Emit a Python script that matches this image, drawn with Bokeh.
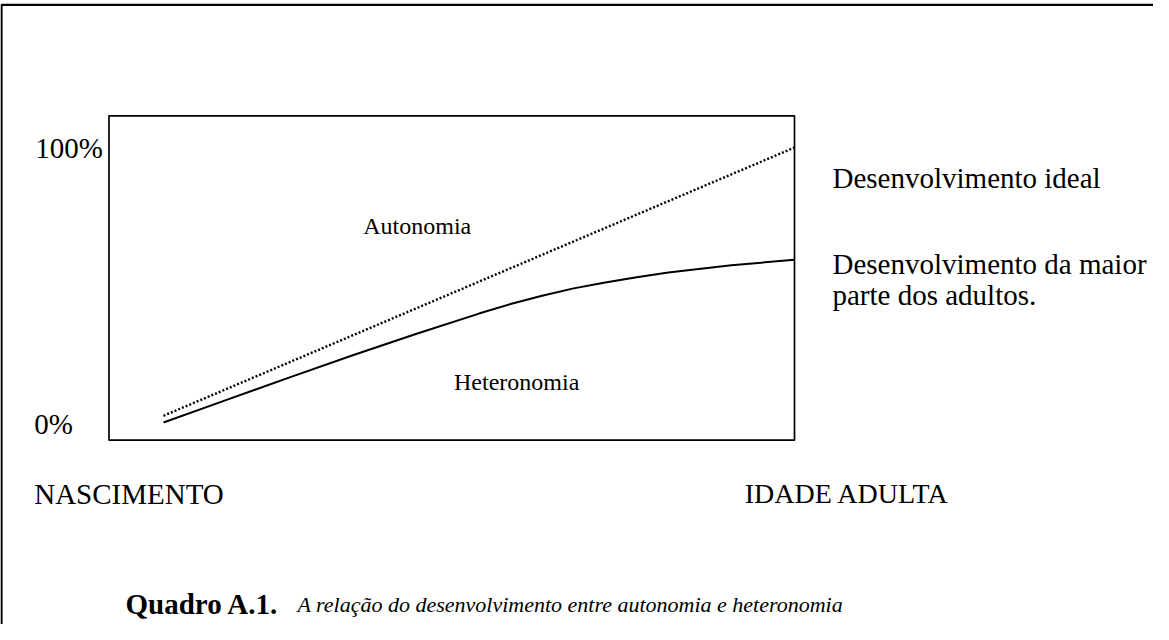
from bokeh.plotting import figure
from bokeh.models import Range1d, Label
from bokeh.embed import file_html
from bokeh.resources import INLINE

# ---- data ----
# x: development stage (0 = birth, 100 = adulthood); y: autonomy (%)
stage_ideal = [0, 100]
ideal = [2.4, 98.2]

stage_majority = [0, 10, 20, 30, 40, 50, 55, 60, 65, 70, 75, 80, 90, 100]
majority = [0, 8.1, 16.1, 24.0, 31.6, 38.9, 42.3, 45.3, 47.9, 50.0, 51.9, 53.6, 56.2, 58.1]

y_tick_labels = ["100%", "0%"]
x_end_labels = ["NASCIMENTO", "IDADE ADULTA"]
region_labels = ["Autonomia", "Heteronomia"]
series_labels = ["Desenvolvimento ideal", "Desenvolvimento da maior", "parte dos adultos."]
caption_bold = "Quadro A.1."
caption_italic = "A relação do desenvolvimento entre autonomia e heteronomia"

W, H = 1153, 624
SERIF = "Liberation Serif"

p = figure(width=W, height=H, output_backend="svg", toolbar_location=None,
           x_axis_type=None, y_axis_type=None,
           x_range=Range1d(-25.832, 156.894), y_range=Range1d(-72.143, 150.714),
           min_border=0, min_border_left=0, min_border_right=0,
           min_border_top=0, min_border_bottom=0)
p.outline_line_color = None
p.background_fill_color = "white"
p.border_fill_color = "white"

# outer frame (only left and top edges visible)
p.line([-25.67, -25.67, 400], [-200, 149.18, 149.18], line_color="black", line_width=2.2)

# inner chart box
p.quad(left=[-8.64], right=[100], top=[109.54], bottom=[-6.32],
       fill_color=None, line_color="black", line_width=1.7)

# curves
p.line(stage_ideal, ideal, line_color="black", line_width=2.4, line_dash="2 2")
p.line(stage_majority, majority, line_color="black", line_width=2.0)

def lab(x, y, text, size, style="normal"):
    p.add_layout(Label(x=x, y=y, text=text, text_font=SERIF, text_font_size=size,
                       text_font_style=style, text_color="black",
                       text_align="left", text_baseline="alphabetic"))

lab(-20.33, 97.96, y_tick_labels[0], "29px")
lab(-20.49, -0.61, y_tick_labels[1], "29px")
lab(-20.49, -25.36, x_end_labels[0], "29px")
lab(92.12, -25.36, x_end_labels[1], "28px")
lab(31.65, 70.25, region_labels[0], "24px")
lab(46.04, 14.29, region_labels[1], "24px")
lab(106.02, 87.32, series_labels[0], "29px")
lab(106.02, 56.43, series_labels[1], "29px")
lab(106.02, 45.36, series_labels[2], "29px")
lab(-6.02, -65.0, caption_bold, "29px", "bold")
lab(21.24, -65.0, caption_italic, "22px", "italic")

open("out.html", "w").write(file_html(p, INLINE))
